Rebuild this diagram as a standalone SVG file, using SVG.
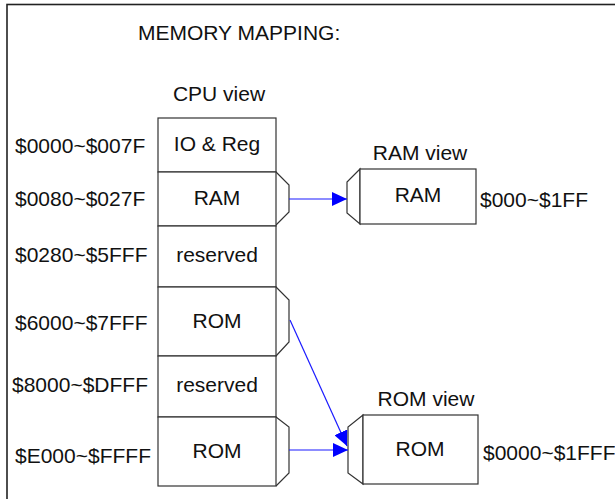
<svg xmlns="http://www.w3.org/2000/svg" width="615" height="499" viewBox="0 0 615 499">
<style>
text{font-family:"Liberation Sans",Arial,sans-serif;font-size:21px;fill:#111}
.c{text-anchor:middle}
.box{fill:#fff;stroke:#333;stroke-width:1.2}
.chev{fill:#fff;stroke:#333;stroke-width:1.2}
.conn{stroke:#1a1aff;stroke-width:1.2;fill:none}
</style>
<defs>
<marker id="ah" markerUnits="userSpaceOnUse" markerWidth="16" markerHeight="14" viewBox="0 0 16 14" refX="15" refY="7" orient="auto">
<path d="M0,0 L15,7 L0,14 Z" fill="#0000ff"/>
</marker>
</defs>
<rect x="0" y="0" width="615" height="499" fill="#fff"/>
<rect x="7" y="4.5" width="640" height="520" fill="none" stroke="#222" stroke-width="1.6"/>
<text x="138" y="40">MEMORY MAPPING:</text>
<text x="219" y="101" class="c">CPU view</text>
<g id="labels">
<text x="15" y="153">$0000~$007F</text>
<text x="15" y="206">$0080~$027F</text>
<text x="15" y="262">$0280~$5FFF</text>
<text x="15" y="330">$6000~$7FFF</text>
<text x="12" y="392">$8000~$DFFF</text>
<text x="15" y="463">$E000~$FFFF</text>
</g>
<g id="cpu-io">
<rect class="box" x="158" y="118" width="118" height="54"/>
<text x="217" y="151" class="c">IO &amp; Reg</text>
</g>
<g id="cpu-ram">
<polyline class="chev" points="276,172 289,185 289,212 276,225"/>
<rect class="box" x="158" y="172" width="118" height="54"/>
<text x="217" y="205" class="c">RAM</text>
</g>
<g id="cpu-res1">
<rect class="box" x="158" y="226" width="118" height="61"/>
<text x="217" y="262" class="c">reserved</text>
</g>
<g id="cpu-rom1">
<polyline class="chev" points="276,287 289,300 289,342 276,356"/>
<rect class="box" x="158" y="287" width="118" height="69"/>
<text x="217" y="328" class="c">ROM</text>
</g>
<g id="cpu-res2">
<rect class="box" x="158" y="356" width="118" height="61"/>
<text x="217" y="392" class="c">reserved</text>
</g>
<g id="cpu-rom2">
<polyline class="chev" points="276,417 289,427 289,473 276,486"/>
<rect class="box" x="158" y="417" width="118" height="69"/>
<text x="217" y="458" class="c">ROM</text>
</g>
<g id="ram-view">
<text x="420" y="160" class="c">RAM view</text>
<polygon class="chev" points="360,169 347,182 347,213 360,224"/>
<rect class="box" x="360" y="169" width="116" height="55"/>
<text x="418" y="202" class="c">RAM</text>
<text x="480" y="207">$000~$1FF</text>
</g>
<g id="rom-view">
<text x="426" y="406" class="c">ROM view</text>
<polygon class="chev" points="363,415 348,427 348,473 363,484"/>
<rect class="box" x="363" y="415" width="115" height="69"/>
<text x="420" y="456" class="c">ROM</text>
<text x="483" y="460">$0000~$1FFF</text>
</g>
<g id="connectors">
<line class="conn" x1="289" y1="199" x2="347" y2="199" marker-end="url(#ah)"/>
<line class="conn" x1="290" y1="320" x2="347" y2="446" marker-end="url(#ah)"/>
<line class="conn" x1="289" y1="450" x2="348" y2="450" marker-end="url(#ah)"/>
</g>
</svg>
